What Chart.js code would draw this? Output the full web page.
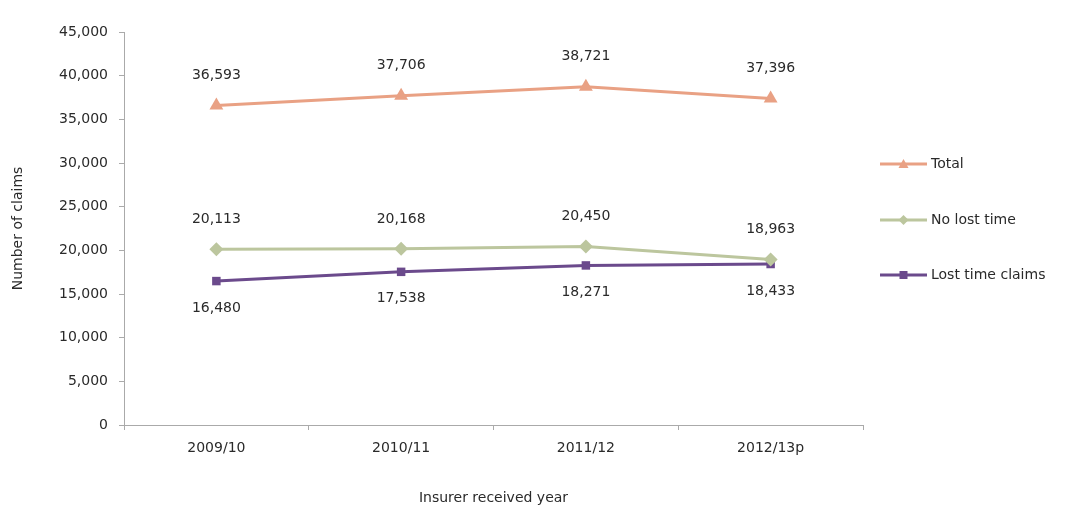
<!DOCTYPE html>
<html>
<head>
<meta charset="utf-8">
<script src="https://cdn.jsdelivr.net/npm/chart.js@4"></script>
<style>
html,body{margin:0;padding:0;background:#fff;}
#wrap{position:relative;width:1068px;height:509px;}
</style>
</head>
<body>
<div id="wrap"><canvas id="c" width="1068" height="509"></canvas></div>
<script>
'use strict';
const YEARS=['2009/10','2010/11','2011/12','2012/13p'];
const TOTAL=[36593,37706,38721,37396];
const NO_LOST=[20113,20168,20450,18963];
const LOST=[16480,17538,18271,18433];
const ORANGE='#e9a184',SAGE='#bcc69e',PURPLE='#6b4a8c',TXT='#2a2a2a';
const FONT='"DejaVu Sans", Arial, sans-serif';
const fmt=v=>v.toLocaleString('en-US');

// value labels: above for total and no lost time, below for lost time
const labelPlugin={id:'vals',afterDatasetsDraw(ch){
  const g=ch.ctx;g.save();g.font='14px '+FONT;g.fillStyle=TXT;g.textAlign='center';g.textBaseline='middle';
  ch.data.datasets.forEach((ds,i)=>{
    const meta=ch.getDatasetMeta(i);
    meta.data.forEach((p,j)=>{
      const below=ds.label==='Lost time claims';
      g.fillText(fmt(ds.data[j]),p.x,below?p.y+27:p.y-30);
    });
  });
  g.restore();
}};

// legend on the right
const legendPlugin={id:'leg',afterDraw(ch){
  const g=ch.ctx;g.save();g.font='14px '+FONT;g.textBaseline='middle';
  const ys=[164,220,275];
  ch.data.datasets.forEach((ds,i)=>{
    const y=ys[i],x0=880,x1=927;
    g.strokeStyle=ds.borderColor;g.lineWidth=3;
    g.beginPath();g.moveTo(x0,y);g.lineTo(x1,y);g.stroke();
    g.fillStyle=ds.borderColor;const cx=(x0+x1)/2;
    g.beginPath();
    if(ds.pointStyle==='triangle'){g.moveTo(cx,y-5);g.lineTo(cx+5,y+4);g.lineTo(cx-5,y+4);}
    else if(ds.pointStyle==='rectRot'){g.moveTo(cx,y-5);g.lineTo(cx+5,y);g.lineTo(cx,y+5);g.lineTo(cx-5,y);}
    else{g.rect(cx-4,y-4,8,8);}
    g.closePath();g.fill();
    g.fillStyle=TXT;g.fillText(ds.label,931,y);
  });
  g.restore();
}};

const ds=(label,data,color,ps,r)=>({label,data,borderColor:color,backgroundColor:color,borderWidth:3,pointStyle:ps,pointRadius:r,pointBorderWidth:0,tension:0,fill:false});

new Chart(document.getElementById('c'),{
  type:'line',
  data:{labels:YEARS,datasets:[
    ds('Total',TOTAL,ORANGE,'triangle',8),
    ds('No lost time',NO_LOST,SAGE,'rectRot',7),
    ds('Lost time claims',LOST,PURPLE,'rect',6)
  ]},
  options:{
    responsive:false,animation:false,
    layout:{padding:{left:0,right:205,top:32,bottom:0}},
    plugins:{legend:{display:false},tooltip:{enabled:false}},
    scales:{
      x:{offset:true,afterFit:s=>{s.height=84;},
        grid:{offset:true,drawOnChartArea:false,drawTicks:true,tickLength:5,color:'#aaa'},
        border:{color:'#aaa',width:1},
        ticks:{color:TXT,font:{family:FONT,size:14},padding:10},
        title:{display:true,text:'Insurer received year',color:TXT,font:{family:FONT,size:14},padding:{top:0,bottom:2}}},
      y:{min:0,max:45000,afterFit:s=>{s.width=124;},
        grid:{drawOnChartArea:false,drawTicks:true,tickLength:5,color:'#aaa'},
        border:{color:'#aaa',width:1},
        ticks:{stepSize:5000,color:TXT,font:{family:FONT,size:14},padding:11,callback:v=>fmt(v)},
        title:{display:true,text:'Number of claims',color:TXT,font:{family:FONT,size:14},padding:{top:10,bottom:0}}}
    }
  },
  plugins:[labelPlugin,legendPlugin]
});
</script>
</body>
</html>
